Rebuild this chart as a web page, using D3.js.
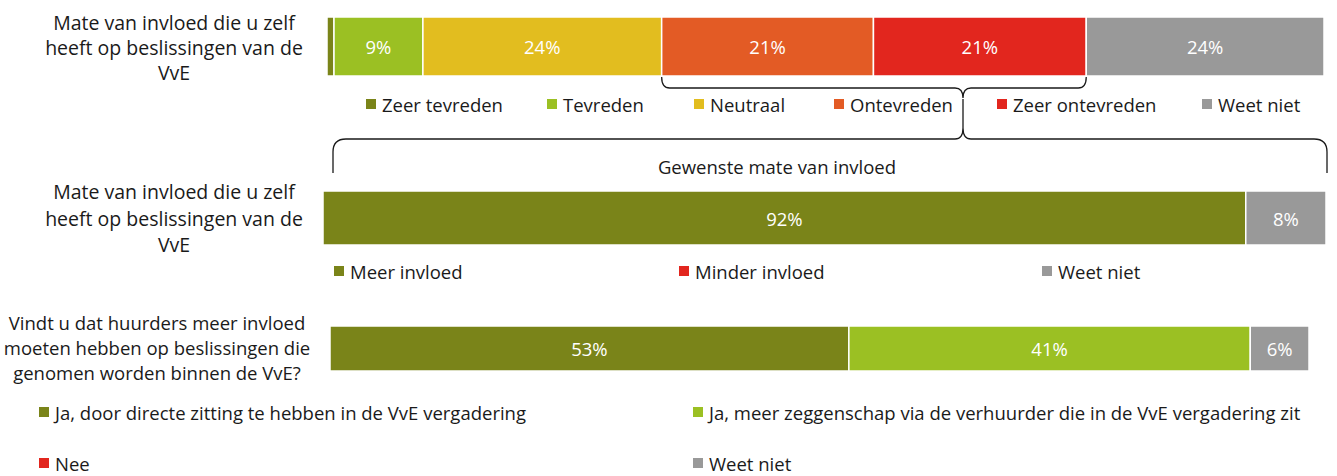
<!DOCTYPE html>
<html>
<head>
    <script src="https://d3js.org/d3.v7.min.js"></script>
    <style>
        body { margin: 0; background: #fff; }
        svg text { font-family: "Open Sans", Lato, sans-serif; font-size: 18.5px; fill: #1a1a1a; }
        .barlabel { fill: #fff; }
    </style>
</head>
<body>
    <svg width="1337" height="476"></svg>

    <script>
        const svg = d3.select("svg");

        // --- data ---
        const topLabel = ["Mate van invloed die u zelf", "heeft op beslissingen van de", "VvE"];
        const topCats = ["Zeer tevreden", "Tevreden", "Neutraal", "Ontevreden", "Zeer ontevreden", "Weet niet"];
        const topValues = [0.7, 8.9, 23.9, 21.2, 21.3, 23.8];

        const midTitle = "Gewenste mate van invloed";
        const midLabel = ["Mate van invloed die u zelf", "heeft op beslissingen van de", "VvE"];
        const midCats = ["Meer invloed", "Minder invloed", "Weet niet"];
        const midValues = [92, 0, 8];

        const botLabel = ["Vindt u dat huurders meer invloed", "moeten hebben op beslissingen die", "genomen worden binnen de VvE?"];
        const botCats = ["Ja, door directe zitting te hebben in de VvE vergadering",
                         "Ja, meer zeggenschap via de verhuurder die in de VvE vergadering zit",
                         "Nee", "Weet niet"];
        const botValues = [53, 41, 0, 6];

        const colors = {
            "Zeer tevreden": "#7a8419", "Tevreden": "#9bc023", "Neutraal": "#e2bd1f",
            "Ontevreden": "#e35b25", "Zeer ontevreden": "#e2261e", "Weet niet": "#999999",
            "Meer invloed": "#7a8419", "Minder invloed": "#e2261e", "Nee": "#e2261e"
        };
        colors[botCats[0]] = "#7a8419";
        colors[botCats[1]] = "#9bc023";

        // draw one stacked 100% bar
        function drawBar(cats, values, x0, x1, y0, y1) {
            const x = d3.scaleLinear().domain([0, 100]).range([x0, x1]);
            const ends = d3.cumsum(values);
            const segs = cats.map((c, i) => ({ cat: c, v: values[i], a: ends[i] - values[i], b: ends[i] }))
                .filter(d => d.v > 0);
            const g = svg.append("g");
            g.selectAll("rect").data(segs).enter().append("rect")
                .attr("x", d => x(d.a)).attr("y", y0)
                .attr("width", d => x(d.b) - x(d.a)).attr("height", y1 - y0)
                .attr("fill", d => colors[d.cat])
                .attr("stroke", "#fff").attr("stroke-width", 1.5);
            g.selectAll("text").data(segs.filter(d => d.v >= 3)).enter().append("text")
                .attr("class", "barlabel")
                .attr("x", d => (x(d.a) + x(d.b)) / 2).attr("y", (y0 + y1) / 2)
                .attr("text-anchor", "middle").attr("dominant-baseline", "central")
                .text(d => Math.round(d.v) + "%");
            return x;
        }

        function drawLabel(lines, cx, ys, size) {
            svg.append("g").selectAll("text").data(lines).enter().append("text")
                .attr("x", cx).attr("y", (d, i) => ys[i])
                .style("font-size", size + "px")
                .attr("text-anchor", "middle").attr("dominant-baseline", "central")
                .text(d => d);
        }

        function drawLegend(cats, xs, ys) {
            const g = svg.append("g").attr("class", "legend");
            const it = g.selectAll("g").data(cats).enter().append("g")
                .attr("transform", (d, i) => `translate(${xs[i]},${ys[i]})`);
            it.append("rect").attr("x", 0).attr("y", -5).attr("width", 10).attr("height", 10)
                .attr("fill", d => colors[d]);
            it.append("text").attr("x", 16).attr("y", 0).attr("dominant-baseline", "central").text(d => d);
        }

        // --- top chart ---
        drawLabel(topLabel, 174, [22, 47, 72], 19.5);
        const xTop = drawBar(topCats, topValues, 327, 1326, 17, 76);
        drawLegend(topCats, [366, 547, 694, 834, 997, 1202], [104, 104, 104, 104, 104, 104]);

        // braces (cusp sits between two legend entries, not at the middle)
        const ends = d3.cumsum(topValues);
        const bx0 = xTop(ends[2]), bx1 = xTop(ends[4]), bc = 963;
        svg.append("path")
            .attr("d", `M${bx0},77 Q${bx0},88 ${bx0 + 8},88 L${bc - 8},88 Q${bc},88 ${bc},98 Q${bc},88 ${bc + 8},88 L${bx1 - 8},88 Q${bx1},88 ${bx1},77`)
            .attr("fill", "none").attr("stroke", "#1a1a1a").attr("stroke-width", 1.3);
        svg.append("path")
            .attr("d", `M333,173 L333,152 Q333,139 346,139 L${bc - 8},139 Q${bc},139 ${bc},128 L${bc},99 M${bc},128 Q${bc},139 ${bc + 8},139 L1314,139 Q1327,139 1327,152 L1327,173`)
            .attr("fill", "none").attr("stroke", "#1a1a1a").attr("stroke-width", 1.3);

        // --- middle chart ---
        svg.append("text").attr("x", 777).attr("y", 166).attr("text-anchor", "middle")
            .attr("dominant-baseline", "central").text(midTitle);
        drawLabel(midLabel, 174, [191, 218, 244], 19.5);
        drawBar(midCats, midValues, 323, 1326, 191, 245);
        drawLegend(midCats, [334, 679, 1042], [271, 271, 271]);

        // --- bottom chart ---
        drawLabel(botLabel, 157, [322, 347, 372], 18.5);
        drawBar(botCats, botValues, 330, 1309, 326, 371);
        drawLegend(botCats, [39, 693, 39, 693], [412, 412, 463, 463]);
    </script>
</body>
</html>
